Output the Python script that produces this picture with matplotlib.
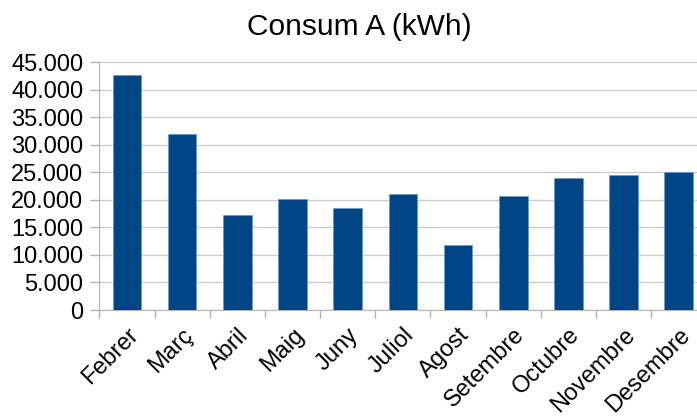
import matplotlib.pyplot as plt
import numpy as np
from matplotlib.ticker import FuncFormatter, MultipleLocator

mesos = ["Febrer", "Març", "Abril", "Maig", "Juny", "Juliol", "Agost",
         "Setembre", "Octubre", "Novembre", "Desembre"]
consum = [42700, 32000, 17300, 20100, 18500, 21100, 11900,
          20700, 23900, 24500, 25000]

plt.rcParams['font.family'] = ['Liberation Sans', 'DejaVu Sans']

fig = plt.figure(figsize=(6.97, 4.16), dpi=100, facecolor="white")
ax = fig.add_axes([0.1425, 0.2548, 0.871, 0.5952])

x = np.arange(len(mesos))
ax.bar(x, consum, width=0.52, color="#004586", edgecolor="#6f9bc8",
       linewidth=0.6, zorder=3)

ax.set_xlim(-0.5, len(mesos) - 0.5)
ax.set_ylim(0, 45000)
ax.yaxis.set_major_locator(MultipleLocator(5000))
ax.yaxis.set_major_formatter(FuncFormatter(lambda v, p: f"{v:,.0f}".replace(",", ".")))
ax.grid(axis="y", color="#cccccc", linewidth=1, zorder=0)

ax.set_xticks(x)
ax.set_xticklabels(mesos, rotation=45, ha="right", va="top", rotation_mode="anchor")
ax.set_xticks(np.arange(-0.5, len(mesos), 1), minor=True)
ax.tick_params(axis="x", which="major", length=0, pad=10, labelsize=17)
ax.tick_params(axis="x", which="minor", length=6, color="#b3b3b3", width=1)
ax.tick_params(axis="y", length=6.5, color="#b3b3b3", width=1, labelsize=17, pad=5)

for s in ["top", "right"]:
    ax.spines[s].set_visible(False)
ax.spines["left"].set_color("#b3b3b3")
ax.spines["bottom"].set_color("#b3b3b3")

fig.text(0.515, 0.935, "Consum A (kWh)", ha="center", va="center", fontsize=21.5)

fig.savefig("out.png", dpi=100, facecolor=fig.get_facecolor())
